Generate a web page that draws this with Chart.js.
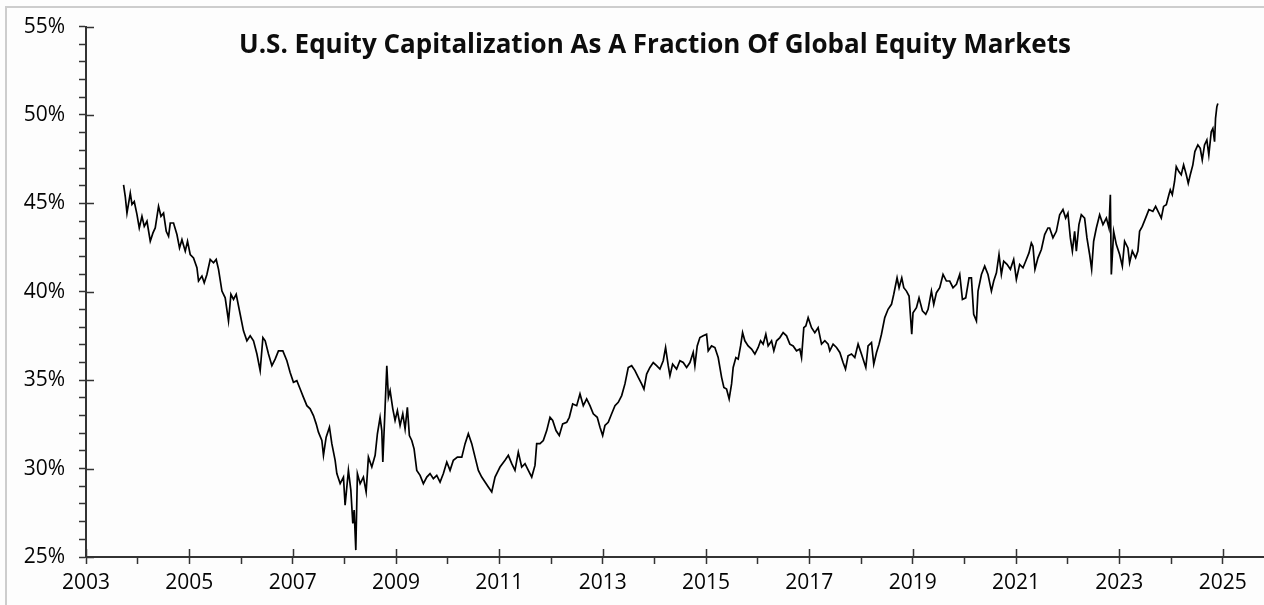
<!DOCTYPE html>
<html lang="en">
<head>
    <meta charset="UTF-8">
    <title>U.S. Equity Capitalization As A Fraction Of Global Equity Markets</title>
    <script src="https://cdn.jsdelivr.net/npm/chart.js"></script>
    <style>
        html, body { margin: 0; padding: 0; background: #fdfdfd; overflow: hidden; }
        #wrap { position: relative; width: 1264px; height: 605px; }
        #frame { position: absolute; left: 5px; top: 6px; width: 1300px; height: 700px; border: 2px solid #cdcdcd; }
        #grafico { position: absolute; left: 0; top: 0; }
        #titulo { position: absolute; left: 155px; top: 30px; width: 1000px; text-align: center;
                  font: 700 26px "Open Sans", sans-serif; line-height: 26px; color: #0d0d0d; }
    </style>
</head>
<body>
<div id="wrap">
    <div id="frame"></div>
    <canvas id="grafico" width="1264" height="605"></canvas>
    <div id="titulo">U.S. Equity Capitalization As A Fraction Of Global Equity Markets</div>
</div>
<script>
// decimal years
const years = [
    2003.727,2003.760,2003.793,2003.857,2003.890,2003.934,2003.986,2004.031,2004.083,2004.128,
    2004.180,2004.244,2004.296,2004.340,2004.404,2004.451,2004.501,2004.553,2004.598,2004.631,
    2004.694,2004.760,2004.810,2004.857,2004.921,2004.965,2005.017,2005.081,2005.147,2005.178,
    2005.244,2005.288,2005.340,2005.404,2005.468,2005.520,2005.565,2005.631,2005.694,2005.758,
    2005.805,2005.855,2005.907,2005.984,2006.048,2006.114,2006.178,2006.242,2006.308,2006.371,
    2006.424,2006.468,2006.532,2006.598,2006.661,2006.725,2006.810,2006.888,
    2006.951,2007.015,2007.081,2007.145,2007.209,2007.275,2007.338,2007.402,2007.455,2007.499,
    2007.565,2007.596,2007.648,2007.712,2007.758,2007.822,2007.855,2007.919,2007.983,2008.015,
    2008.079,2008.126,2008.164,2008.190,2008.222,2008.253,2008.306,2008.369,2008.422,2008.466,
    2008.532,2008.596,2008.640,2008.692,2008.725,2008.745,2008.789,2008.822,2008.853,2008.886,
    2008.938,2008.982,2009.027,2009.079,2009.131,2009.176,2009.220,2009.259,2009.305,2009.350,
    2009.402,2009.466,2009.530,2009.596,2009.659,2009.723,2009.789,2009.853,2009.917,2009.983,
    2010.046,2010.110,2010.188,2010.273,2010.337,2010.400,2010.466,2010.530,2010.594,2010.659,
    2010.723,2010.787,2010.853,2010.917,2010.981,
    2011.013,2011.110,2011.174,2011.240,2011.303,2011.367,2011.433,2011.497,2011.561,2011.627,
    2011.690,2011.723,2011.787,2011.851,2011.917,2011.981,2012.033,2012.097,2012.160,2012.226,
    2012.304,2012.354,2012.420,2012.497,2012.561,2012.625,2012.690,2012.754,2012.818,2012.895,
    2012.948,2013.000,2013.044,2013.108,2013.174,2013.238,2013.302,2013.368,2013.431,2013.495,
    2013.561,2013.625,2013.689,2013.754,2013.799,2013.851,2013.915,2013.979,2014.044,2014.108,
    2014.172,2014.218,2014.269,2014.302,2014.354,2014.431,2014.495,2014.559,2014.625,2014.689,
    2014.752,2014.785,2014.830,2014.882,2014.946,2015.011,2015.043,2015.108,2015.172,2015.236,
    2015.302,2015.346,2015.398,2015.448,2015.495,2015.526,2015.578,2015.623,2015.669,2015.708,
    2015.752,2015.816,2015.882,2015.946,2016.010,2016.056,2016.106,2016.158,2016.203,2016.269,2016.313,2016.366,
    2016.430,2016.493,2016.559,2016.623,2016.687,2016.752,2016.816,2016.849,2016.893,2016.932,
    2016.977,2017.043,2017.106,2017.170,2017.236,2017.300,2017.364,2017.396,2017.460,2017.526,
    2017.590,2017.653,2017.700,2017.750,2017.816,2017.880,2017.944,2018.009,2018.093,2018.137,
    2018.203,2018.247,2018.300,2018.350,2018.396,2018.460,2018.524,2018.590,2018.634,2018.698,
    2018.737,2018.789,2018.828,2018.880,2018.930,2018.982,2019.007,2019.073,2019.123,2019.189,
    2019.253,2019.298,2019.363,2019.408,2019.460,2019.524,2019.588,2019.653,2019.717,2019.781,
    2019.847,2019.911,2019.963,2020.027,2020.091,2020.137,2020.181,2020.234,2020.265,2020.331,
    2020.394,2020.458,2020.524,2020.569,2020.621,2020.671,2020.717,2020.762,2020.826,2020.891,
    2020.955,2021.007,2021.071,2021.135,2021.187,2021.251,2021.297,2021.328,2021.367,2021.425,2021.491,2021.555,2021.618,
    2021.651,2021.715,2021.781,2021.845,2021.909,2021.961,2022.005,2022.052,2022.091,2022.135,
    2022.168,2022.218,2022.264,2022.328,2022.373,2022.425,2022.464,2022.503,2022.555,2022.619,
    2022.683,2022.749,2022.799,2022.826,2022.845,2022.890,2022.942,2023.006,2023.058,2023.102,
    2023.166,2023.199,2023.251,2023.315,2023.359,2023.392,2023.444,2023.508,2023.572,2023.649,
    2023.702,2023.766,2023.812,2023.857,2023.909,2023.959,2023.986,2024.025,2024.069,2024.102,
    2024.152,2024.198,2024.244,2024.296,2024.334,2024.373,2024.423,2024.462,2024.520,2024.566,
    2024.605,2024.649,2024.694,2024.732,2024.779,2024.810,2024.843,2024.862,2024.887,2024.907
];

// U.S. share of global equity market cap (%)
const usShare = [
    46.05,45.39,44.45,45.58,44.94,45.11,44.38,43.61,44.27,43.70,
    43.99,42.86,43.33,43.61,44.83,44.27,44.45,43.42,43.14,43.89,
    43.89,43.24,42.48,42.95,42.30,42.86,42.11,41.92,41.36,40.61,
    40.89,40.51,40.98,41.83,41.64,41.83,41.27,40.04,39.66,38.35,
    39.86,39.57,39.86,38.73,37.79,37.23,37.51,37.23,36.48,35.54,
    37.41,37.23,36.48,35.82,36.19,36.66,36.66,36.10,
    35.44,34.88,34.97,34.50,34.03,33.56,33.38,33.00,32.53,32.06,
    31.59,30.75,31.78,32.34,31.41,30.47,29.72,29.15,29.52,27.93,
    29.90,28.78,26.90,27.65,25.39,29.72,29.15,29.52,28.68,30.65,
    30.09,30.75,31.97,32.90,32.15,30.37,33.47,35.82,34.03,34.41,
    33.38,32.72,33.28,32.44,33.10,32.25,33.47,31.87,31.59,31.12,
    29.90,29.62,29.15,29.52,29.72,29.43,29.62,29.24,29.72,30.37,
    29.90,30.47,30.65,30.65,31.41,31.97,31.41,30.65,29.90,29.52,
    29.24,28.96,28.68,29.52,29.90,
    30.09,30.47,30.75,30.28,29.90,30.93,30.09,30.28,29.90,29.52,
    30.18,31.41,31.41,31.59,32.15,32.90,32.72,32.15,31.87,32.53,
    32.62,32.90,33.66,33.56,34.22,33.56,33.94,33.56,33.10,32.90,
    32.34,31.87,32.44,32.62,33.10,33.56,33.75,34.13,34.79,35.72,
    35.82,35.54,35.16,34.79,34.50,35.35,35.72,36.00,35.82,35.63,
    36.10,36.85,35.82,35.25,35.91,35.63,36.10,36.00,35.72,36.00,
    36.57,35.82,36.94,37.41,37.51,37.60,36.66,36.94,36.85,36.28,
    35.16,34.59,34.50,33.94,34.79,35.72,36.28,36.19,36.94,37.69,
    37.23,36.94,36.76,36.48,36.85,37.23,37.04,37.60,36.94,37.23,36.66,37.23,
    37.41,37.69,37.51,37.04,36.94,36.66,36.76,36.28,37.97,38.07,
    38.54,37.97,37.69,37.97,37.04,37.23,37.04,36.66,37.04,36.85,
    36.57,36.00,35.63,36.38,36.48,36.28,37.04,36.48,35.72,36.94,
    37.13,35.91,36.57,37.04,37.60,38.54,39.01,39.29,39.86,40.79,
    40.23,40.79,40.23,40.04,39.76,37.60,38.82,39.10,39.66,38.92,
    38.73,39.01,40.04,39.29,39.95,40.23,40.98,40.61,40.61,40.23,
    40.42,40.98,39.57,39.66,40.79,40.79,38.73,38.35,40.04,40.98,
    41.45,40.98,40.04,40.61,41.07,42.11,40.98,41.73,41.55,41.27,
    41.83,40.70,41.55,41.36,41.73,42.20,42.76,42.58,41.27,41.92,42.39,43.24,43.61,
    43.61,43.05,43.42,44.36,44.65,44.17,44.45,43.05,42.30,43.42,
    42.30,43.80,44.36,44.17,43.05,42.11,41.27,42.86,43.61,44.36,
    43.80,44.17,43.61,45.49,40.98,43.42,42.67,42.11,41.45,42.86,
    42.48,41.64,42.30,41.92,42.30,43.42,43.70,44.17,44.65,44.55,
    44.83,44.45,44.17,44.83,44.93,45.49,45.77,45.49,46.24,47.08,
    46.80,46.62,47.18,46.62,46.14,46.62,47.18,47.93,48.31,48.12,
    47.46,48.31,48.59,47.74,49.06,49.24,48.49,49.81,50.46,50.65
];

const yearMin = 2003, yearMax = 2025.8;
const pctMin = 25, pctMax = 55;

const corTexto = '#050505';
const corEixo = '#333';
const fonteEixo = { family: 'Open Sans', size: 21 };

// ticks on the inner side of the axes for labelled (major) positions
const ticksInternos = {
    id: 'ticksInternos',
    afterDraw(chart) {
        const { ctx, scales: { x, y } } = chart;
        ctx.save();
        ctx.strokeStyle = corEixo;
        ctx.lineWidth = 1.5;
        ctx.beginPath();
        y.ticks.forEach(t => {
            if (t.value % 5 === 0) {
                const py = Math.round(y.getPixelForValue(t.value)) + 0.5;
                ctx.moveTo(x.left, py);
                ctx.lineTo(x.left + 8, py);
            }
        });
        x.ticks.forEach(t => {
            if (t.value % 2 === 1) {
                const px = Math.round(x.getPixelForValue(t.value)) + 0.5;
                ctx.moveTo(px, y.bottom);
                ctx.lineTo(px, y.bottom - 8);
            }
        });
        ctx.stroke();
        ctx.restore();
    }
};

const ctx = document.getElementById('grafico').getContext('2d');
new Chart(ctx, {
    type: 'line',
    data: {
        datasets: [{
            data: years.map((ano, i) => ({ x: ano, y: usShare[i] })),
            borderColor: '#000',
            borderWidth: 1.7,
            pointRadius: 0,
            tension: 0
        }]
    },
    options: {
        responsive: false,
        animation: false,
        layout: { padding: { top: 24, right: 0, bottom: 0, left: 0 } },
        plugins: { legend: { display: false }, tooltip: { enabled: false } },
        scales: {
            x: {
                type: 'linear',
                min: yearMin,
                max: yearMax,
                afterBuildTicks: s => { s.ticks = s.ticks.filter(t => Number.isInteger(t.value)); },
                afterFit: s => { s.height = 48; },
                ticks: {
                    stepSize: 1, maxTicksLimit: 100, autoSkip: false, maxRotation: 0,
                    includeBounds: false,
                    padding: 6, color: corTexto, font: fonteEixo,
                    callback: v => (v % 2 === 1 ? String(v) : '')
                },
                grid: { drawOnChartArea: false, tickLength: 7, color: corEixo, tickWidth: 1.5 },
                border: { color: corEixo, width: 2 }
            },
            y: {
                min: pctMin,
                max: pctMax,
                afterFit: s => { s.width = 86; },
                ticks: {
                    stepSize: 1, maxTicksLimit: 100, autoSkip: false,
                    padding: 14, color: corTexto, font: fonteEixo,
                    callback: v => (v % 5 === 0 ? v + '%' : '')
                },
                grid: { drawOnChartArea: false, tickLength: 7, color: corEixo, tickWidth: 1.5 },
                border: { color: corEixo, width: 2 }
            }
        }
    },
    plugins: [ticksInternos]
});
</script>
</body>
</html>
